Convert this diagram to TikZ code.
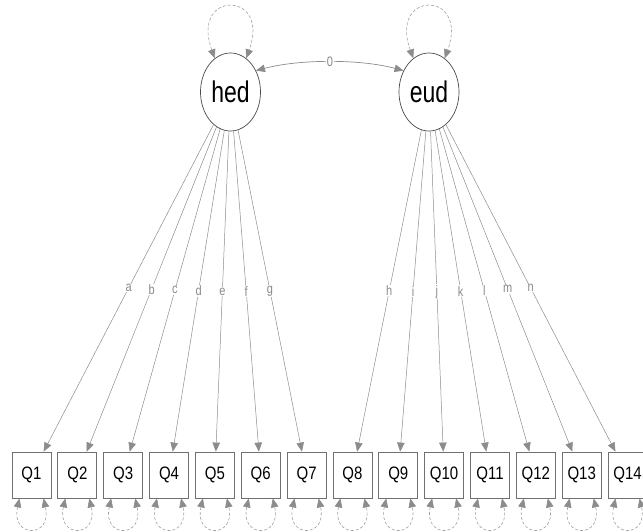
\documentclass[tikz,border=0pt]{standalone}
\usepackage{fontspec}
\usepackage{graphicx}
\setmainfont{Liberation Sans}
\usetikzlibrary{arrows.meta,shapes.geometric}
\definecolor{linegray}{HTML}{8C8C8C}
\definecolor{boxgray}{HTML}{707070}
\definecolor{circgray}{HTML}{4A4A4A}
\definecolor{loopgray}{HTML}{A0A0A0}
\definecolor{labgray}{HTML}{8A8A8A}
\newcommand{\vtxt}[2]{\scalebox{1}[#1]{#2}}
\begin{document}
\begin{tikzpicture}[x=1pt,y=-1pt,
  lat/.style={ellipse,draw=circgray,line width=0.7pt,minimum width=60pt,minimum height=78pt,inner sep=0pt,font=\fontsize{23}{25}\selectfont},
  obs/.style={rectangle,draw=boxgray,line width=0.8pt,minimum width=39pt,minimum height=46pt,inner sep=0pt,font=\fontsize{15}{17}\selectfont},
  tip/.tip={Triangle[length=9pt,width=7.5pt]},
  load/.style={draw=linegray,line width=0.5pt,-{tip[fill=linegray]}},
  cov/.style={draw=linegray,line width=0.7pt,{tip[fill=linegray]}-{tip[fill=linegray]}},
  varloop/.style={draw=loopgray,line width=0.6pt,dash pattern=on 3pt off 2pt,{tip[fill=linegray,color=linegray]}-{tip[fill=linegray,color=linegray]}},
  lab/.style={fill=white,inner sep=0.6pt,text=labgray,font=\fontsize{11}{12}\selectfont}
]
\useasboundingbox (0,0) rectangle (643,532);
\node[lat] (hed) at (230.5,92) {\vtxt{1.3}{hed}};
\node[lat] (eud) at (429,92) {\vtxt{1.3}{eud}};
\foreach \i in {1,...,14} {
  \node[obs] (Q\i) at ({31.5+45.85*(\i-1)},475) {\vtxt{1.2}{Q\i}};
}
\foreach \i/\l in {1/a,2/b,3/c,4/d,5/e,6/f,7/g} {
  \draw[load] (hed) -- node[lab,pos=0.5] {\vtxt{1.25}{\l}} (Q\i);
}
\foreach \i/\l in {8/h,9/i,10/j,11/k,12/l,13/m,14/n} {
  \draw[load] (eud) -- node[lab,pos=0.5] {\vtxt{1.25}{\l}} (Q\i);
}
\draw[cov] (hed.40) .. controls (300,59) and (360,59) .. node[lab,pos=0.5] {\vtxt{1.25}{0}} (eud.140);
\draw[varloop] (hed.115) .. controls (190,-10) and (271,-10) .. (hed.65);
\draw[varloop] (eud.115) .. controls (388.5,-10) and (469.5,-10) .. (eud.65);
\foreach \i in {1,...,14} {
  \draw[varloop] ([xshift=-12pt]Q\i.south) .. controls +(-9,40) and +(9,40) .. ([xshift=12pt]Q\i.south);
}
\end{tikzpicture}
\end{document}
